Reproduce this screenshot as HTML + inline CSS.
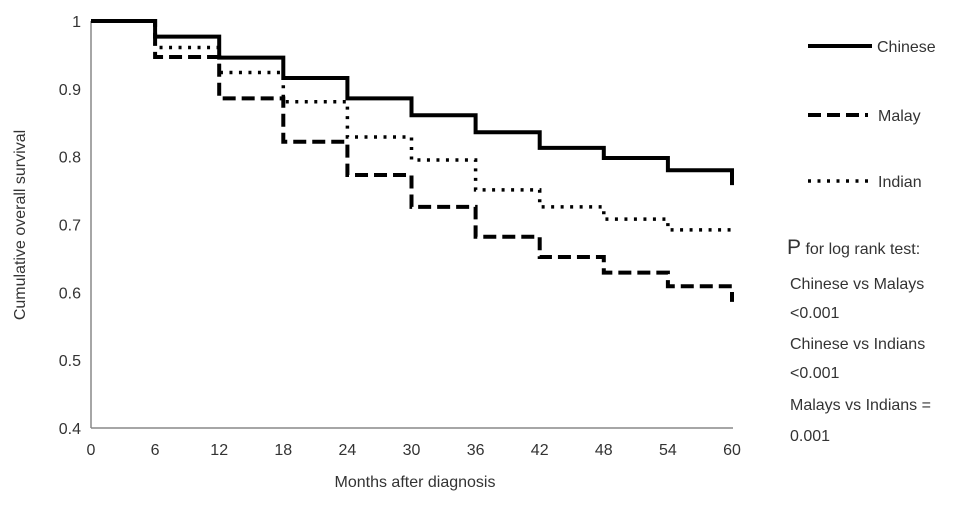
<!DOCTYPE html>
<html><head><meta charset="utf-8"><style>
body{margin:0;background:#fff;}
svg{display:block;font-family:"Liberation Sans",Arial,sans-serif;}
</style></head><body>
<svg id="chart" width="969" height="508" viewBox="0 0 969 508">
<g id="axes"></g>
<g id="series"></g>
<g>
<line x1="808" y1="46" x2="872" y2="46" stroke="#000" stroke-width="4"/>
<text x="877" y="52" font-size="16" fill="#333">Chinese</text>
<line x1="808" y1="115" x2="868" y2="115" stroke="#000" stroke-width="4" stroke-dasharray="13,6"/>
<text x="878" y="121" font-size="16" fill="#333">Malay</text>
<line x1="808" y1="181" x2="868" y2="181" stroke="#000" stroke-width="3.5" stroke-dasharray="3,6.5"/>
<text x="878" y="187" font-size="16" fill="#333">Indian</text>
</g>
<g font-size="16" fill="#333">
<text x="787" y="254"><tspan font-size="21">P</tspan> for log rank test:</text>
<text x="790" y="289">Chinese vs Malays</text>
<text x="790" y="318">&lt;0.001</text>
<text x="790" y="349">Chinese vs Indians</text>
<text x="790" y="378">&lt;0.001</text>
<text x="790" y="410">Malays vs Indians =</text>
<text x="790" y="441">0.001</text>
</g>
<text x="415" y="487" font-size="16" fill="#333" text-anchor="middle">Months after diagnosis</text>
<text transform="translate(25,225) rotate(-90)" font-size="16" fill="#333" text-anchor="middle">Cumulative overall survival</text>
</svg>
<script>
const xTicks=[0,6,12,18,24,30,36,42,48,54,60];
const yTicks=[0.4,0.5,0.6,0.7,0.8,0.9,1];
const yTickLabels=["0.4","0.5","0.6","0.7","0.8","0.9","1"];
const stepTimes=[0,6,12,18,24,30,36,42,48,54,60];
const chinese=[1,0.977,0.946,0.916,0.886,0.861,0.836,0.813,0.798,0.780,0.758];
const malay=[1,0.947,0.886,0.822,0.773,0.726,0.682,0.652,0.629,0.609,0.586];
const indian=[1,0.961,0.924,0.881,0.829,0.795,0.751,0.726,0.708,0.692,0.692];
const NS="http://www.w3.org/2000/svg";
const x=t=>91+(t-0)*(732-91)/60;
const y=v=>428-(v-0.4)*(428-21)/0.6;
const axes=document.getElementById('axes');
function mk(tag,attrs,parent){const e=document.createElementNS(NS,tag);for(const k in attrs)e.setAttribute(k,attrs[k]);parent.appendChild(e);return e;}
const ya=mk('line',{x1:91,y1:21,x2:91,y2:428,stroke:'#888','stroke-width':1.5},axes);


const xa=mk('line',{x1:91,y1:428,x2:733,y2:428,stroke:'#888','stroke-width':1.5},axes);


xTicks.forEach(t=>{const e=mk('text',{x:x(t),y:455,'font-size':16,fill:'#333','text-anchor':'middle'},axes);e.textContent=t;

});
yTicks.forEach((v,i)=>{const e=mk('text',{x:81,y:y(v)+6,'font-size':16,fill:'#333','text-anchor':'end'},axes);e.textContent=yTickLabels[i];

});
const ser=document.getElementById('series');
function step(vals,dash,sw,name){let d='M'+x(stepTimes[0])+','+y(vals[0]);
for(let i=1;i<vals.length;i++){d+=' H'+x(stepTimes[i])+' V'+y(vals[i]);}
const p=mk('path',{d:d,fill:'none',stroke:'#000','stroke-width':sw},ser);
if(dash)p.setAttribute('stroke-dasharray',dash);

}
step(indian,'3,6.5',3.5,'indian-line');
step(malay,'13,6',4,'malay-line');
step(chinese,null,4,'chinese-line');
</script>
</body></html>
